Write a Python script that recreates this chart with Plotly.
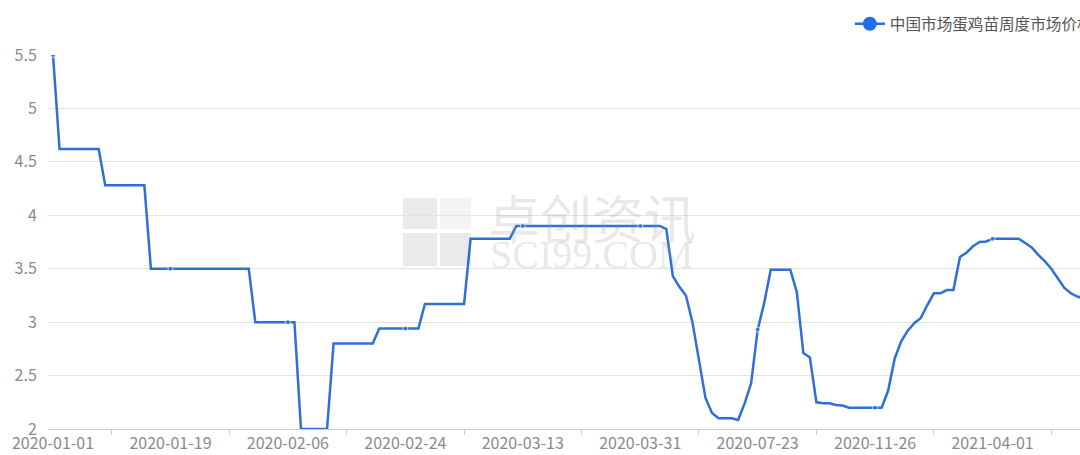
import pandas as pd
import plotly.graph_objects as go

# ---- categories (x axis) ----
daily_dates = [d.strftime("%Y-%m-%d") for d in pd.date_range("2020-01-01", "2020-04-02", freq="D")]
weekly_dates = [d.strftime("%Y-%m-%d") for d in pd.date_range("2020-04-09", "2021-07-15", freq="7D")]
categories = daily_dates + weekly_dates

# ---- series values ----
prices = [
    5.5,
    4.62, 4.62, 4.62, 4.62, 4.62, 4.62, 4.62,
    4.28, 4.28, 4.28, 4.28, 4.28, 4.28, 4.28,
    3.5, 3.5, 3.5, 3.5, 3.5, 3.5, 3.5, 3.5, 3.5, 3.5, 3.5, 3.5, 3.5, 3.5, 3.5, 3.5,
    3.0, 3.0, 3.0, 3.0, 3.0, 3.0, 3.0,
    2.0, 2.0, 2.0, 2.0, 2.0,
    2.8, 2.8, 2.8, 2.8, 2.8, 2.8, 2.8,
    2.94, 2.94, 2.94, 2.94, 2.94, 2.94, 2.94,
    3.17, 3.17, 3.17, 3.17, 3.17, 3.17, 3.17,
    3.78, 3.78, 3.78, 3.78, 3.78, 3.78, 3.78,
    3.9, 3.9, 3.9, 3.9, 3.9, 3.9, 3.9, 3.9, 3.9, 3.9, 3.9, 3.9,
    3.9, 3.9, 3.9, 3.9, 3.9, 3.9, 3.9, 3.9, 3.9, 3.9, 3.9,
    3.87, 3.43, 3.33, 3.25, 3.0, 2.65, 2.29, 2.15,
    2.10, 2.10, 2.10, 2.085, 2.24, 2.43, 2.93, 3.18,
    3.49, 3.49, 3.49, 3.49, 3.28, 2.71, 2.67, 2.25,
    2.24, 2.24, 2.225, 2.22, 2.20, 2.20, 2.20, 2.20, 2.20, 2.20,
    2.36, 2.66, 2.82, 2.92, 2.99, 3.04, 3.16, 3.27, 3.27, 3.30, 3.30,
    3.61, 3.65, 3.71, 3.75, 3.755,
    3.78, 3.78, 3.78, 3.78, 3.78,
    3.74, 3.70, 3.63, 3.57, 3.50, 3.41, 3.32, 3.27, 3.24, 3.22,
]
categories = categories[:len(prices)]

series_name = "中国市场蛋鸡苗周度市场价格"
y_ticks = [2, 2.5, 3, 3.5, 4, 4.5, 5, 5.5]
y_tick_text = ["2", "2.5", "3", "3.5", "4", "4.5", "5", "5.5"]
label_step = 18

idx = list(range(len(prices)))
label_idx = [i for i in idx if i % label_step == 0]
minor_idx = [i + label_step / 2 for i in label_idx]
marker_sizes = [5 if i % label_step == 0 else 0 for i in idx]

LINE = "#2e6fda"
FONT = "Noto Sans CJK SC, Microsoft YaHei, sans-serif"

fig = go.Figure()
fig.add_trace(go.Scatter(
    x=idx, y=prices, mode="lines+markers", name=series_name, showlegend=False,
    line=dict(color=LINE, width=2.5),
    marker=dict(size=marker_sizes, color=LINE),
    hovertext=categories,
))
# legend entry
fig.add_trace(go.Scatter(
    x=[None], y=[None], mode="lines+markers", name=series_name,
    line=dict(color="#1f6de8", width=2.5),
    marker=dict(size=14, color="#1f6de8"),
))

# watermark
wm = "rgba(150,150,150,0.22)"
fig.add_annotation(text="卓创资讯", xref="paper", yref="paper",
                   x=(592 - 48) / 1032, y=(429 - 216) / 374, showarrow=False,
                   font=dict(family=FONT, size=52, color=wm))
fig.add_annotation(text="SCI99.COM", xref="paper", yref="paper",
                   x=(591 - 48) / 1032, y=(429 - 255) / 374, showarrow=False,
                   font=dict(family="Liberation Serif, serif", size=40, color=wm))
for (x0, y0, x1, y1, c) in [(403, 198, 437, 229, "rgba(150,150,150,0.2)"),
                            (440, 198, 471, 229, "rgba(150,150,150,0.1)"),
                            (403, 233, 437, 266, "rgba(150,150,150,0.2)"),
                            (440, 233, 471, 266, "rgba(150,150,150,0.2)")]:
    fig.add_shape(type="rect", xref="paper", yref="paper", layer="below",
                  x0=(x0 - 48) / 1032, x1=(x1 - 48) / 1032,
                  y0=(429 - y1) / 374, y1=(429 - y0) / 374,
                  line=dict(width=0), fillcolor=c)

fig.update_layout(
    width=1080, height=455,
    margin=dict(l=48, r=0, t=55, b=26, autoexpand=False),
    paper_bgcolor="white", plot_bgcolor="white",
    font=dict(family=FONT, size=16, color="#8a8a8a"),
    showlegend=True,
    legend=dict(x=0.777, y=1.128, xanchor="left", yanchor="top",
                bgcolor="rgba(0,0,0,0)", font=dict(size=15.6, color="#555555"),
                itemclick=False),
    xaxis=dict(
        range=[-0.77, 157.4], showgrid=False, zeroline=False,
        tickmode="array", tickvals=label_idx,
        ticktext=[categories[i] for i in label_idx],
        ticks="",
        showline=True, linecolor="#cccccc", linewidth=1,
        tickfont=dict(size=16, color="#8a8a8a"),
        minor=dict(tickmode="array", tickvals=minor_idx, ticks="outside",
                   ticklen=5, tickcolor="#cccccc", showgrid=False),
    ),
    yaxis=dict(
        range=[2, 5.5], tickmode="array", tickvals=y_ticks, ticktext=y_tick_text,
        showgrid=True, gridcolor="#e3e3e3", gridwidth=1, zeroline=False,
        showline=False, ticks="outside", ticklen=7, tickcolor="rgba(0,0,0,0)",
        tickfont=dict(size=16, color="#8a8a8a"),
    ),
)

fig.write_html("out.html", config={"displayModeBar": False},
               post_script="document.body.style.margin='0';document.body.style.overflow='hidden';")
